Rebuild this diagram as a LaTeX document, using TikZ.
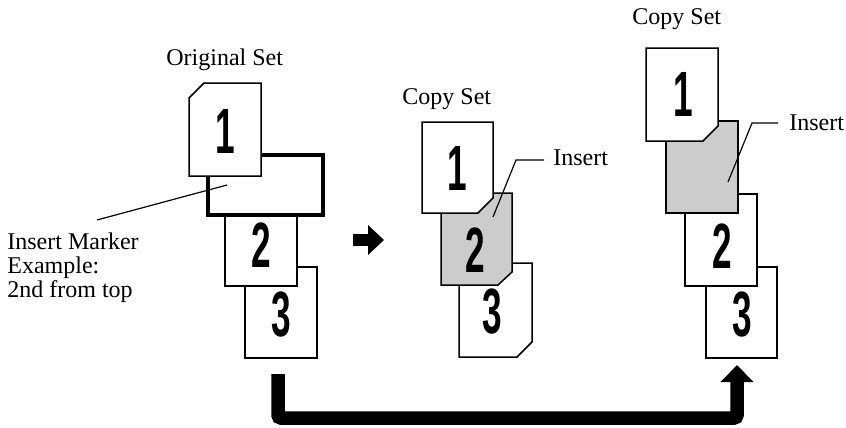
\documentclass[tikz,border=0pt]{standalone}
\usepackage{fontspec}
\setmainfont{Liberation Serif}
\newfontfamily\ziffer{Liberation Sans}
\usetikzlibrary{arrows.meta}
\begin{document}
\begin{tikzpicture}[x=0.5pt, y=-0.5pt, >=latex,
  blatt/.style={draw, fill=white, line width=0.75pt},
  einlage/.style={draw, fill=black!20, line width=0.75pt},
  nr/.style={font=\ziffer\bfseries\fontsize{32}{32}\selectfont, inner sep=0pt},
  txt/.style={font=\fontsize{12}{14}\selectfont, inner sep=0pt, anchor=base west},
  leit/.style={line width=0.6pt}]
\def\Z#1{\scalebox{0.55}[1]{#1}}
\useasboundingbox (0,0) rectangle (846,428);
% Originalsatz
\node[txt] (tOrig) at (166,65) {Original Set};
\draw[blatt] (245,267) rectangle (317,358);
\node[nr] (o3) at (281,315) {\Z{3}};
\draw[blatt] (225,193) rectangle (297,286);
\node[nr] (o2) at (261,245) {\Z{2}};
% Einlegemarke
\draw[blatt, line width=1.75pt] (208,155) rectangle (323,215);
\draw[blatt] (189,98) -- (204,83) -- (261,83) -- (261,176) -- (189,176) -- cycle;
\node[nr] (o1) at (225,131) {\Z{1}};
% Beschriftung Einlegemarke
\coordinate (mk) at (227,185);
\node[txt] (tMk1) at (7,249) {Insert Marker};
\node[txt] (tMk2) at (7,273) {Example:};
\node[txt] (tMk3) at (7,297) {2nd from top};
\draw[leit] (97,220) -- (mk);
% Pfeil Mitte
\coordinate (pA) at (353,240);
\coordinate (pB) at (384,240);
\draw[line width=6pt, -{Triangle[width=14.5pt,length=8pt]}] (pA) -- (pB);
% Kopiensatz 1
\node[txt] (tK1) at (402,104) {Copy Set};
\draw[blatt] (459,263) -- (532,263) -- (532,342) -- (517,357) -- (459,357) -- cycle;
\node[nr] (m3) at (492,312) {\Z{3}};
\draw[einlage] (441,193) -- (512,193) -- (512,272) -- (498,285) -- (441,285) -- cycle;
\node[nr] (m2) at (475,250) {\Z{2}};
\draw[blatt] (422,122) -- (493,122) -- (493,198) -- (478,213) -- (422,213) -- cycle;
\node[nr] (m1) at (457,168) {\Z{1}};
\node[txt] (tIns1) at (553,165) {Insert};
\draw[leit] (493,217) -- (516,160) -- (544,160);
% Kopiensatz 2
\node[txt] (tK2) at (632,25) {Copy Set};
\draw[blatt] (706,267) rectangle (777,358);
\node[nr] (r3) at (742,315) {\Z{3}};
\draw[blatt] (685,194) rectangle (757,286);
\node[nr] (r2) at (722,246) {\Z{2}};
\draw[einlage] (666,121) rectangle (738,213);
\draw[blatt] (646,48) -- (718,48) -- (718,126) -- (703,141) -- (646,141) -- cycle;
\node[nr] (r1) at (683,94) {\Z{1}};
\node[txt] (tIns2) at (789,130) {Insert};
\draw[leit] (728,182) -- (752,123) -- (778,123);
% Pfeil unten
\coordinate (start) at (278,374);
\coordinate (ziel) at (737,365);
\draw[line width=6.75pt, rounded corners=1.5pt, -{Triangle[width=16pt,length=8.5pt]}]
  (start) -- ++(0,44) -| (ziel);
\end{tikzpicture}
\end{document}
